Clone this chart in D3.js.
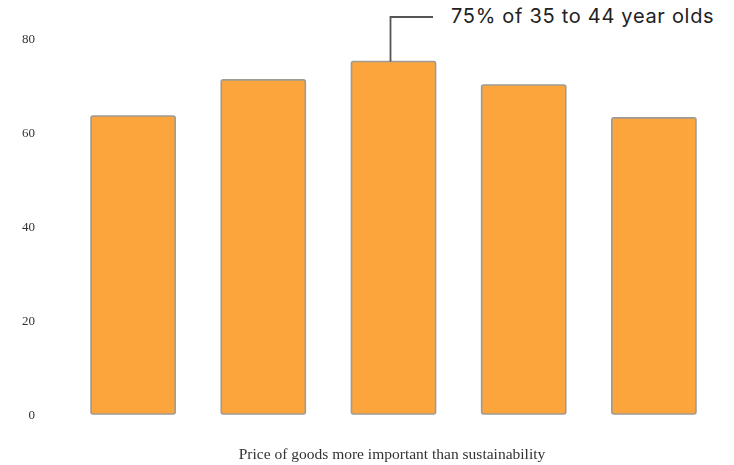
<!DOCTYPE html>
<html>
<head>
<meta charset="utf-8">
<script src="https://cdn.jsdelivr.net/npm/d3@7"></script>
<style>
  html, body { margin: 0; padding: 0; background: #fff; }
  svg { display: block; }
</style>
</head>
<body>
<svg id="chart" width="734" height="465"></svg>
<script>
// Age groups (left to right) and share who rate price above sustainability
const categories = ["18-24", "25-34", "35-44", "45-54", "55+"];
const values = [63.4, 71.1, 75, 70, 63];
const yTicks = [0, 20, 40, 60, 80];
const axisTitle = "Price of goods more important than sustainability";
const calloutText = "75% of 35 to 44 year olds";
const calloutIndex = 2;

const svg = d3.select("#chart");

// soft rendering for the serif axis text
const defs = svg.append("defs");
defs.append("filter")
  .attr("id", "soft")
  .attr("x", "-10%").attr("y", "-30%")
  .attr("width", "120%").attr("height", "160%")
  .append("feGaussianBlur")
  .attr("stdDeviation", 0.6);

const x = d3.scaleBand()
  .domain(categories)
  .range([68, 719])
  .paddingInner(0.354)
  .paddingOuter(0.177);

const y = d3.scaleLinear()
  .domain([0, 80])
  .range([414, 38]);

// y tick labels (no axis line or tick marks)
const yAxis = d3.axisLeft(y).tickValues(yTicks).tickSize(0).tickPadding(0);
const gy = svg.append("g")
  .attr("transform", "translate(35,0)")
  .attr("filter", "url(#soft)")
  .call(yAxis);
gy.select(".domain").remove();
gy.selectAll("text")
  .attr("font-family", "'Liberation Serif', 'DejaVu Serif', serif")
  .attr("font-size", 13)
  .attr("fill", "#333")
  .attr("text-anchor", "end")
  .attr("x", 0)
  .attr("dy", "0.35em");

// bars
svg.append("g")
  .selectAll("rect")
  .data(values)
  .join("rect")
  .attr("x", (d, i) => x(categories[i]))
  .attr("y", d => y(d))
  .attr("width", x.bandwidth())
  .attr("height", d => y(0) - y(d))
  .attr("rx", 2)
  .attr("fill", "#FBA53C")
  .attr("stroke", "#9e9a94")
  .attr("stroke-width", 1.6);

// x-axis title
svg.append("text")
  .attr("x", 392)
  .attr("y", 459)
  .attr("text-anchor", "middle")
  .attr("font-family", "'Liberation Serif', 'DejaVu Serif', serif")
  .attr("font-size", 15.5)
  .attr("fill", "#333")
  .attr("filter", "url(#soft)")
  .text(axisTitle);

// callout on the highlighted bar
const cx = x(categories[calloutIndex]) + x.bandwidth() / 2 - 3;
const cy = y(values[calloutIndex]);
svg.append("path")
  .attr("d", `M${cx},${cy} V17 H433`)
  .attr("fill", "none")
  .attr("stroke", "#555")
  .attr("stroke-width", 1.8);

svg.append("text")
  .attr("x", 451)
  .attr("y", 23)
  .attr("font-family", "Inter, 'Noto Sans', sans-serif")
  .attr("font-size", 20)
  .attr("letter-spacing", 0.7)
  .attr("fill", "#222")
  .text(calloutText);
</script>
</body>
</html>
